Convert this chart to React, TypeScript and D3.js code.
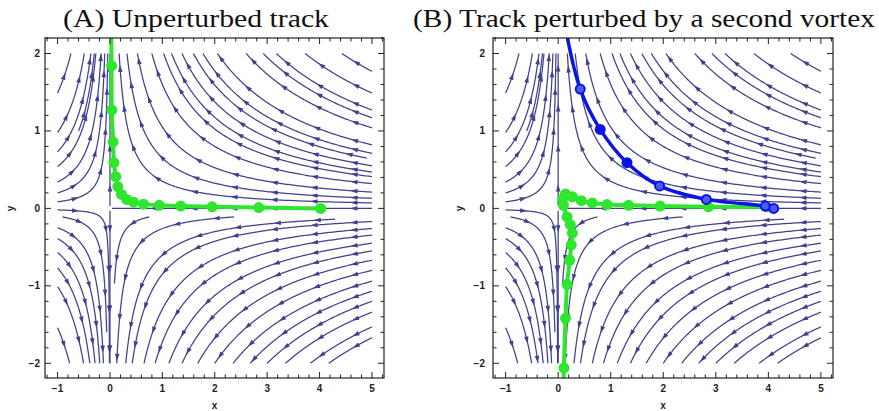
import React, { useEffect, useRef } from 'react';
import * as d3 from 'd3';

// ---------- data ----------
const xTicks = [-1, 0, 1, 2, 3, 4, 5];
const yTicks = [-2, -1, 0, 1, 2];
const xDomain = [-1.24, 5.23];
const yDomain = [-2.19, 2.2];

// Streamlines of the saddle flow (dx/dt = -x, dy/dt = y): [xStart, yStart, yEnd]
const streamQ1 = [
  [5, 1.77, 2.0], [5, 1.49, 2.0], [5, 1.27, 2.0], [5, 1.17, 2.0], [5, 1.04, 2.0],
  [5, 0.82, 2.0], [5, 0.71, 2.0], [4.9, 0.65, 2.0], [5, 0.55, 2.0], [5, 0.47, 2.0],
  [5, 0.41, 2.0], [5, 0.32, 2.0], [5, 0.21, 2.0], [5, 0.13, 2.0], [5, 0.07, 2.0],
];
const streamQ2 = [
  [-1, 1.49, 2.0], [-1, 0.98, 2.0], [-1, 0.73, 2.0], [-0.6, 1.0, 2.0], [-1, 0.54, 2.0],
  [-1, 0.34, 2.0], [-1, 0.2, 2.0], [-1, 0.085, 2.0],
];
const streamQ3 = [
  [-1, -0.02, -2.0], [-0.91, -0.11, -1.6], [-1, -0.25, -2.0], [-1, -0.39, -2.0],
  [-1, -0.57, -2.0], [-1, -0.77, -2.0], [-1, -1.01, -2.0], [-1, -1.54, -2.0],
];
const streamQ4 = [
  [5, -0.17, -2.0], [5, -0.26, -2.0], [5, -0.345, -2.0], [5, -0.45, -2.0], [5, -0.55, -2.0],
  [5, -0.67, -2.0], [5, -0.8, -2.0], [5, -0.94, -2.0], [5, -1.07, -2.0], [5, -1.2, -2.0],
  [5, -1.34, -2.0], [5, -1.53, -2.0], [5, -1.67, -2.0], [2.37, -0.11, -2.0],
  [4.3, -0.14, -2.0], [0.75, -0.11, -0.97],
];
// straight streamlines along the axes: [[xFrom, yFrom], [xTo, yTo]]
const streamAxes = [
  [[5, 0], [0.04, 0]],
  [[0, 0.03], [0, 2.0]],
  [[0, -0.03], [0, -2.0]],
];

// Vortex tracks
const trackA = [
  [4.02, 0.0], [2.84, 0.01], [1.95, 0.02], [1.35, 0.03], [0.94, 0.04], [0.64, 0.055],
  [0.45, 0.08], [0.32, 0.116], [0.22, 0.18], [0.15, 0.28], [0.11, 0.41], [0.076, 0.59],
  [0.06, 0.86], [0.035, 1.27], [0.03, 1.84], [0.02, 2.6],
];
const trackBGreen = [
  [3.97, 0.02], [2.86, 0.02], [1.94, 0.03], [1.34, 0.04], [0.93, 0.05], [0.65, 0.07],
  [0.44, 0.1], [0.27, 0.15], [0.14, 0.185], [0.09, 0.13], [0.1, 0.04], [0.17, -0.11],
  [0.23, -0.21], [0.27, -0.32], [0.25, -0.47], [0.22, -0.67], [0.17, -0.98],
  [0.14, -1.42], [0.11, -2.06], [0.1, -2.8],
];
const trackBBlue = [
  [4.1, 0.0], [3.94, 0.03], [2.82, 0.116], [1.93, 0.29], [1.31, 0.59], [0.8, 1.02],
  [0.42, 1.54], [0.12, 2.4],
];
// which blue markers appear as rings (lighter centre)
const blueRing = [true, true, true, true, false, false, true, false];

const titles = ['(A) Unperturbed track', '(B) Track perturbed by a second vortex'];

// ---------- layout ----------
const W = 879, H = 411;
const TOP = 38, BOTTOM = 378;
const panelLayout = [
  { left: 45, right: 384, titleX: 196, titleW: 266, yLabX: 14, tickLabRight: 40 },
  { left: 493, right: 833, titleX: 644, titleW: 462, yLabX: 463, tickLabRight: 485 },
];
const STREAM = '#40408f';
const GREEN = '#2ee62e';
const BLUE = '#0a14e6';

function flowPoints(x0: number, y0: number, y1: number) {
  const T = Math.log(y1 / y0);
  const n = 240;
  const pts: [number, number][] = [];
  for (let i = 0; i <= n; i++) {
    const t = (T * i) / n;
    pts.push([x0 * Math.exp(-t), y0 * Math.exp(t)]);
  }
  return pts;
}

export default function App() {
  const ref = useRef<SVGSVGElement>(null);
  useEffect(() => {
    const svg = d3.select(ref.current);
    svg.selectAll('*').remove();

    panelLayout.forEach((P, pi) => {
      const x = d3.scaleLinear().domain(xDomain).range([P.left, P.right]);
      const y = d3.scaleLinear().domain(yDomain).range([BOTTOM, TOP]);
      const g = svg.append('g');
      const clipId = 'clip' + pi;
      svg.append('clipPath').attr('id', clipId)
        .append('rect').attr('x', P.left).attr('y', TOP)
        .attr('width', P.right - P.left).attr('height', BOTTOM - TOP);

      // title
      svg.append('text').attr('x', P.titleX).attr('y', 27)
        .attr('text-anchor', 'middle')
        .attr('font-family', '"Liberation Serif", serif')
        .attr('font-size', 25)
        .attr('textLength', P.titleW).attr('lengthAdjust', 'spacingAndGlyphs')
        .attr('fill', '#111')
        .text(titles[pi]);

      const plot = g.append('g').attr('clip-path', `url(#${clipId})`);
      const line = d3.line<[number, number]>().x(d => x(d[0])).y(d => y(d[1]));

      const drawStream = (pts: [number, number][]) => {
        const px = pts.map(p => [x(p[0]), y(p[1])] as [number, number]);
        plot.append('path').attr('d', d3.line()(px))
          .attr('fill', 'none').attr('stroke', STREAM).attr('stroke-width', 1.25);
        // arrows along arc length
        const cum = [0];
        for (let i = 1; i < px.length; i++) {
          cum.push(cum[i - 1] + Math.hypot(px[i][0] - px[i - 1][0], px[i][1] - px[i - 1][1]));
        }
        const total = cum[cum.length - 1];
        for (let s = 18; s < total - 4; s += 40) {
          let i = d3.bisectLeft(cum, s);
          if (i < 1) i = 1;
          const a = px[i - 1], b = px[i];
          const len = Math.hypot(b[0] - a[0], b[1] - a[1]) || 1;
          const ux = (b[0] - a[0]) / len, uy = (b[1] - a[1]) / len;
          const f = (s - cum[i - 1]) / (cum[i] - cum[i - 1] || 1);
          const cx = a[0] + f * (b[0] - a[0]), cy = a[1] + f * (b[1] - a[1]);
          const L = 3.5, Wd = 2.3;
          const tip = [cx + ux * L, cy + uy * L];
          const b1 = [cx - ux * L - uy * Wd, cy - uy * L + ux * Wd];
          const b2 = [cx - ux * L + uy * Wd, cy - uy * L - ux * Wd];
          plot.append('path')
            .attr('d', `M${tip[0]},${tip[1]}L${b1[0]},${b1[1]}L${b2[0]},${b2[1]}Z`)
            .attr('fill', STREAM);
        }
      };

      [...streamQ1, ...streamQ2, ...streamQ3, ...streamQ4].forEach(s =>
        drawStream(flowPoints(s[0], s[1], s[2])));
      streamAxes.forEach(seg => {
        const [a, b] = seg;
        const n = 60;
        const pts: [number, number][] = d3.range(n + 1).map(i =>
          [a[0] + (b[0] - a[0]) * i / n, a[1] + (b[1] - a[1]) * i / n]);
        drawStream(pts);
      });

      const drawTrack = (data: number[][], color: string, w: number, r: number, rings?: boolean[]) => {
        plot.append('path').datum(data as [number, number][])
          .attr('d', line.curve(d3.curveCatmullRom.alpha(0.5)))
          .attr('fill', 'none').attr('stroke', color).attr('stroke-width', w)
          .attr('stroke-linejoin', 'round');
        plot.selectAll(null).data(data).enter().append('circle')
          .attr('cx', d => x(d[0])).attr('cy', d => y(d[1]))
          .attr('r', (d, i) => (rings && rings[i] ? r - 1 : r))
          .attr('fill', (d, i) => (rings && rings[i] ? '#4f5cf0' : color))
          .attr('stroke', (d, i) => (rings && rings[i] ? color : 'none'))
          .attr('stroke-width', 2);
      };
      if (pi === 0) {
        drawTrack(trackA, GREEN, 4, 5.5);
      } else {
        drawTrack(trackBGreen, GREEN, 4, 5.5);
        drawTrack(trackBBlue, BLUE, 3.5, 5.5, blueRing);
      }

      // frame
      g.append('rect').attr('x', P.left).attr('y', TOP)
        .attr('width', P.right - P.left).attr('height', BOTTOM - TOP)
        .attr('fill', 'none').attr('stroke', '#222').attr('stroke-width', 1.2);

      // ticks
      const xMinor = d3.range(-1.2, 5.21, 0.2).map(v => Math.round(v * 10) / 10);
      const yMinor = d3.range(-2.2, 2.21, 0.2).map(v => Math.round(v * 10) / 10);
      const tg = g.append('g').attr('stroke', '#222').attr('stroke-width', 1);
      xMinor.forEach(v => {
        const major = Math.abs(v - Math.round(v)) < 1e-6;
        const L = major ? 6 : 3.5;
        const X = x(v);
        if (X < P.left || X > P.right) return;
        tg.append('line').attr('x1', X).attr('x2', X).attr('y1', BOTTOM).attr('y2', BOTTOM - L);
        tg.append('line').attr('x1', X).attr('x2', X).attr('y1', TOP).attr('y2', TOP + L);
      });
      yMinor.forEach(v => {
        const major = Math.abs(v - Math.round(v)) < 1e-6;
        const L = major ? 6 : 3.5;
        const Y = y(v);
        if (Y < TOP || Y > BOTTOM) return;
        tg.append('line').attr('y1', Y).attr('y2', Y).attr('x1', P.left).attr('x2', P.left + L);
        tg.append('line').attr('y1', Y).attr('y2', Y).attr('x1', P.right).attr('x2', P.right - L);
      });

      const fmt = (v: number) => (v < 0 ? '\u2212' + Math.abs(v) : String(v));
      xTicks.forEach(v => {
        g.append('text').attr('x', x(v)).attr('y', 392)
          .attr('text-anchor', 'middle').attr('font-family', '"Liberation Sans", sans-serif')
          .attr('font-weight', 'bold').attr('font-size', 10).attr('fill', '#222')
          .text(fmt(v));
      });
      yTicks.forEach(v => {
        g.append('text').attr('x', P.tickLabRight).attr('y', y(v) + 3.5)
          .attr('text-anchor', 'end').attr('font-family', '"Liberation Sans", sans-serif')
          .attr('font-weight', 'bold').attr('font-size', 10).attr('fill', '#222')
          .text(fmt(v));
      });
      g.append('text').attr('x', (P.left + P.right) / 2).attr('y', 409)
        .attr('text-anchor', 'middle').attr('font-family', '"Liberation Sans", sans-serif')
        .attr('font-weight', 'bold').attr('font-size', 10).attr('fill', '#222').text('x');
      g.append('text').attr('transform', `translate(${P.yLabX},${y(0)}) rotate(-90)`)
        .attr('text-anchor', 'middle').attr('font-family', '"Liberation Sans", sans-serif')
        .attr('font-weight', 'bold').attr('font-size', 10).attr('fill', '#222').text('y');
    });
  }, []);

  return (
    <div style={{ position: 'absolute', left: 0, top: 0, width: W, height: H, background: '#fff' }}>
      <svg ref={ref} width={W} height={H} />
    </div>
  );
}
